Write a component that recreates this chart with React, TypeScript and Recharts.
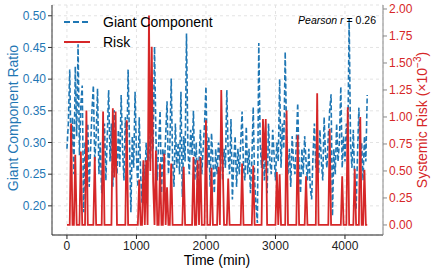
import {
  ComposedChart,
  Line,
  XAxis,
  YAxis,
  CartesianGrid,
  Legend,
} from "recharts";

const BLUE = "#1f77b4";
const RED = "#d62728";
const FONT = "'Liberation Sans', Arial, sans-serif";

// time (min), sampled every 20 min
const timeMin = [
  0, 20, 40, 60, 80, 100, 120, 140, 160, 180,
  200, 220, 240, 260, 280, 300, 320, 340, 360, 380,
  400, 420, 440, 460, 480, 500, 520, 540, 560, 580,
  600, 620, 640, 660, 680, 700, 720, 740, 760, 780,
  800, 820, 840, 860, 880, 900, 920, 940, 960, 980,
  1000, 1020, 1040, 1060, 1080, 1100, 1120, 1140, 1160, 1180,
  1200, 1220, 1240, 1260, 1280, 1300, 1320, 1340, 1360, 1380,
  1400, 1420, 1440, 1460, 1480, 1500, 1520, 1540, 1560, 1580,
  1600, 1620, 1640, 1660, 1680, 1700, 1720, 1740, 1760, 1780,
  1800, 1820, 1840, 1860, 1880, 1900, 1920, 1940, 1960, 1980,
  2000, 2020, 2040, 2060, 2080, 2100, 2120, 2140, 2160, 2180,
  2200, 2220, 2240, 2260, 2280, 2300, 2320, 2340, 2360, 2380,
  2400, 2420, 2440, 2460, 2480, 2500, 2520, 2540, 2560, 2580,
  2600, 2620, 2640, 2660, 2680, 2700, 2720, 2740, 2760, 2780,
  2800, 2820, 2840, 2860, 2880, 2900, 2920, 2940, 2960, 2980,
  3000, 3020, 3040, 3060, 3080, 3100, 3120, 3140, 3160, 3180,
  3200, 3220, 3240, 3260, 3280, 3300, 3320, 3340, 3360, 3380,
  3400, 3420, 3440, 3460, 3480, 3500, 3520, 3540, 3560, 3580,
  3600, 3620, 3640, 3660, 3680, 3700, 3720, 3740, 3760, 3780,
  3800, 3820, 3840, 3860, 3880, 3900, 3920, 3940, 3960, 3980,
  4000, 4020, 4040, 4060, 4080, 4100, 4120, 4140, 4160, 4180,
  4200, 4220, 4240, 4260, 4280, 4300, 4320,
];

const giantComponent = [
  0.29, 0.33, 0.415, 0.27, 0.34, 0.25, 0.42, 0.31, 0.455, 0.28,
  0.36, 0.39, 0.19, 0.3, 0.26, 0.33, 0.23, 0.29, 0.35, 0.39,
  0.27, 0.31, 0.385, 0.25, 0.3, 0.22, 0.28, 0.33, 0.24, 0.31,
  0.383, 0.27, 0.33, 0.23, 0.351, 0.28, 0.25, 0.32, 0.26, 0.375,
  0.29, 0.24, 0.34, 0.27, 0.415, 0.3, 0.19, 0.31, 0.26, 0.38,
  0.28, 0.23, 0.34, 0.25, 0.205, 0.27, 0.24, 0.3, 0.26, 0.31,
  0.27, 0.33, 0.29, 0.451, 0.31, 0.24, 0.3, 0.35, 0.22, 0.29,
  0.26, 0.31, 0.365, 0.25, 0.29, 0.401, 0.27, 0.23, 0.33, 0.26,
  0.3, 0.25, 0.38, 0.214, 0.31, 0.27, 0.472, 0.29, 0.25, 0.32,
  0.28, 0.35, 0.24, 0.3, 0.22, 0.27, 0.32, 0.25, 0.29, 0.33,
  0.388, 0.26, 0.31, 0.23, 0.315, 0.27, 0.22, 0.29, 0.25, 0.3,
  0.27, 0.32, 0.24, 0.29, 0.26, 0.383, 0.28, 0.25, 0.337, 0.21,
  0.27, 0.31, 0.23, 0.29, 0.25, 0.3, 0.349, 0.26, 0.24, 0.325,
  0.25, 0.29, 0.22, 0.27, 0.356, 0.24, 0.2, 0.173, 0.457, 0.3,
  0.26, 0.31, 0.24, 0.29, 0.22, 0.33, 0.27, 0.25, 0.32, 0.28,
  0.24, 0.3, 0.27, 0.4, 0.26, 0.33, 0.29, 0.443, 0.31, 0.25,
  0.29, 0.23, 0.31, 0.27, 0.25, 0.3, 0.362, 0.26, 0.22, 0.29,
  0.25, 0.31, 0.27, 0.24, 0.29, 0.23, 0.21, 0.28, 0.33, 0.26,
  0.3, 0.25, 0.32, 0.27, 0.24, 0.34, 0.28, 0.26, 0.31, 0.35,
  0.376, 0.184, 0.29, 0.25, 0.33, 0.27, 0.3, 0.388, 0.26, 0.31,
  0.27, 0.33, 0.29, 0.496, 0.3, 0.26, 0.32, 0.24, 0.194, 0.28,
  0.355, 0.26, 0.3, 0.24, 0.31, 0.27, 0.375,
];

// systemic risk, x 10^-3
const risk = [
  0, 0, 0, 0.94, 0, 0, 0.65, 0, 0, 0,
  0.68, 0, 0, 0, 1.06, 0, 0, 0, 0, 0,
  0.63, 0, 0, 0, 0, 0, 1.05, 0, 0, 0,
  0, 0, 0, 1.08, 0.44, 1.05, 0, 0, 0, 0,
  0, 0, 0, 0.97, 0, 0, 0, 0, 0, 0,
  0, 0, 0.42, 0, 0, 0.6, 0, 0.6, 0, 1.94,
  0.5, 1.65, 0.4, 0, 0.69, 0, 0, 0.57, 0, 0,
  0.66, 0, 0.35, 0, 0, 0.57, 0, 0, 0, 0,
  0, 0, 0, 0, 0.54, 0, 0, 0, 0, 0,
  0, 0.63, 0, 0, 0.6, 0, 0.63, 0, 0, 0,
  0.97, 0, 0, 0, 0.53, 0, 0, 0, 0, 0.54,
  0, 1.25, 0.6, 0, 0, 0, 0.43, 0, 0, 0,
  0, 0, 0, 0, 0, 0, 0.57, 0, 0, 0,
  0, 0, 0, 0, 0.55, 0, 0, 0, 0, 0,
  0, 0.98, 0.6, 0.98, 0, 0, 0, 0, 0, 0,
  0, 0.49, 0, 0.47, 0, 0, 0, 0, 1.06, 0,
  0, 0, 0, 0, 0, 0, 0.83, 0, 0, 0,
  0, 0, 0.45, 0, 0, 0, 0, 0, 0, 0,
  1.22, 0, 0, 0, 0, 0, 0, 0, 0, 0.89,
  0, 0, 0, 0, 0, 0, 0, 0, 0.45, 0,
  0, 0, 1.09, 0, 0, 0, 0, 0.52, 0, 0,
  0, 1.0, 0, 0, 0.51, 0, 0,
];

const xTicks = [0, 1000, 2000, 3000, 4000];
const leftTicks = [0.2, 0.25, 0.3, 0.35, 0.4, 0.45, 0.5];
const rightTicks = [0, 0.25, 0.5, 0.75, 1, 1.25, 1.5, 1.75, 2];

const data = timeMin.map((t, i) => ({ t, gc: giantComponent[i], risk: risk[i] }));

function LegendBox() {
  return (
    <svg width={160} height={44} style={{ display: "block" }}>
      <line x1={4} y1={10} x2={30} y2={10} stroke={BLUE} strokeWidth={2} strokeDasharray="6 3" />
      <text x={43} y={15} fontSize={14} fontFamily={FONT} fill="#000">Giant Component</text>
      <line x1={4} y1={30} x2={30} y2={30} stroke={RED} strokeWidth={2} />
      <text x={43} y={35} fontSize={14} fontFamily={FONT} fill="#000">Risk</text>
    </svg>
  );
}

export default function App() {
  return (
    <div style={{ position: "absolute", left: 0, top: 0, width: 441, height: 269 }}>
      <ComposedChart
        width={441}
        height={269}
        data={data}
        margin={{ top: 5, right: 0, bottom: 0, left: 0 }}
      >
        <CartesianGrid yAxisId="left" stroke="#e3e3e3" strokeDasharray="3 3" />
        <XAxis
          dataKey="t"
          type="number"
          domain={[-215, 4547]}
          ticks={xTicks}
          height={34}
          allowDataOverflow
          stroke="#222"
          tickSize={4}
          tick={{ fill: "#222", fontSize: 12, fontFamily: FONT }}
          label={() => (
            <text x={217} y={265} textAnchor="middle" fontSize={14} fontFamily={FONT} fill="#000">
              Time (min)
            </text>
          )}
        />
        <YAxis
          yAxisId="left"
          width={52}
          domain={[0.154, 0.517]}
          ticks={leftTicks}
          allowDataOverflow
          stroke="#333"
          tickSize={4}
          tickFormatter={(v: number) => v.toFixed(2)}
          tick={{ fill: BLUE, fontSize: 12, fontFamily: FONT }}
          label={() => (
            <text
              x={14}
              y={118}
              transform="rotate(-90 14 118)"
              textAnchor="middle"
              dominantBaseline="middle"
              fontSize={14}
              fontFamily={FONT}
              fill={BLUE}
            >
              Giant Component Ratio
            </text>
          )}
        />
        <YAxis
          yAxisId="right"
          orientation="right"
          width={58}
          domain={[-0.093, 2.037]}
          ticks={rightTicks}
          allowDataOverflow
          stroke="#888"
          tickSize={4}
          tickFormatter={(v: number) => v.toFixed(2)}
          tick={{ fill: RED, fontSize: 12, fontFamily: FONT }}
          label={() => (
            <text
              x={423}
              y={120}
              transform="rotate(-90 423 120)"
              textAnchor="middle"
              dominantBaseline="middle"
              fontSize={14}
              fontFamily={FONT}
              fill={RED}
            >
              Systemic Risk (×10
              <tspan dy={-5} fontSize={10}>−3</tspan>
              <tspan dy={5}>)</tspan>
            </text>
          )}
        />
        <Line
          yAxisId="left"
          dataKey="gc"
          type="linear"
          stroke={BLUE}
          strokeWidth={1.6}
          strokeDasharray="5 2.5"
          dot={false}
          isAnimationActive={false}
        />
        <Line
          yAxisId="right"
          dataKey="risk"
          type="linear"
          stroke={RED}
          strokeWidth={1.8}
          dot={false}
          isAnimationActive={false}
        />
        <Legend
          layout="vertical"
          align="center"
          verticalAlign="middle"
          content={() => <LegendBox />}
          wrapperStyle={{ left: 60, top: 12, width: 160, height: 44 }}
        />
      </ComposedChart>
      <div
        style={{
          position: "absolute",
          right: 441 - 376,
          top: 14,
          fontSize: 10.5,
          fontFamily: FONT,
          color: "#000",
          whiteSpace: "nowrap",
        }}
      >
        <i>Pearson r</i> = 0.26
      </div>
    </div>
  );
}
